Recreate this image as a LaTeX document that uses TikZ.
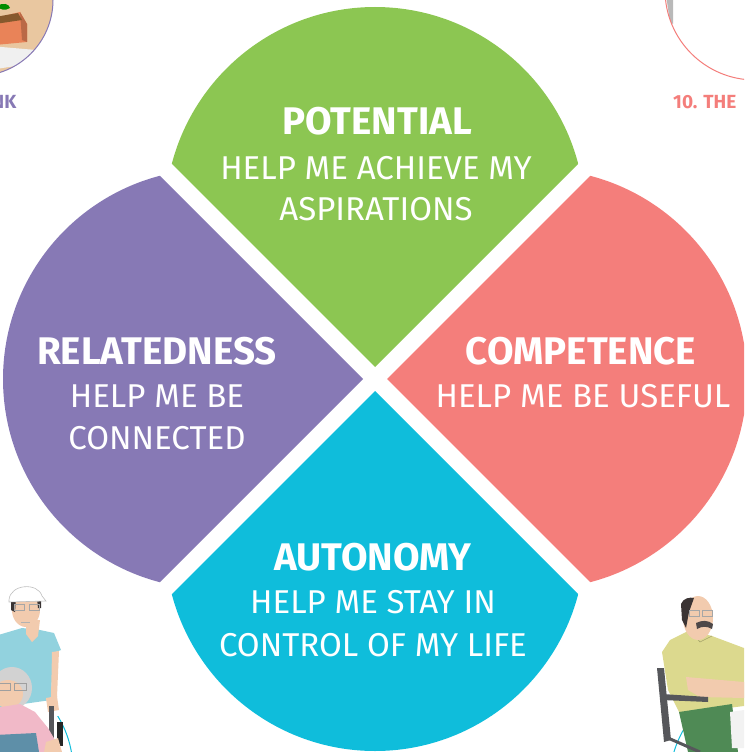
\documentclass[tikz,border=0pt]{standalone}
\usepackage{fontspec}
\setmainfont{Fira Sans}

\definecolor{petalgreen}{HTML}{8CC652}
\definecolor{petalpurple}{HTML}{8779B5}
\definecolor{petalcoral}{HTML}{F47E7B}
\definecolor{petalcyan}{HTML}{0FBDDB}
\definecolor{skin}{HTML}{F2CBAE}
\definecolor{hairdark}{HTML}{3A3434}
\definecolor{shirtblue}{HTML}{92D2DE}
\definecolor{blousepink}{HTML}{F1B9C8}
\definecolor{bagblue}{HTML}{5E8FA8}
\definecolor{khaki}{HTML}{DCD98E}
\definecolor{pantsgreen}{HTML}{4F8A55}
\definecolor{chairgray}{HTML}{56575B}
\definecolor{photobeige}{HTML}{E9C7A0}
\definecolor{planter}{HTML}{E98358}

\tikzset{
  petaltitle/.style={text=white, font=\bfseries\fontsize{38.5}{38.5}\selectfont,
    anchor=base, inner sep=0pt},
  petalline/.style={text=white, font=\mdseries\fontsize{33}{33}\selectfont,
    anchor=base, inner sep=0pt},
  cornerlabel/.style={font=\bfseries\fontsize{19}{19}\selectfont,
    anchor=base, inner sep=0pt},
  ring/.style={line width=1pt},
}

\begin{document}
\begin{tikzpicture}[x=1pt,y=-1pt]
\useasboundingbox (0,0) rectangle (744,752);
\clip (0,0) rectangle (744,752);

% ---------- four petals: a disc cut by two diagonals ----------
\begin{scope}
  \clip (375,367) -- (-25,-33) -- (775,-33) -- cycle;
  \fill[petalgreen] (375,217) circle (210pt);
\end{scope}
\begin{scope}
  \clip (363,379) -- (-37,-21) -- (-37,779) -- cycle;
  \fill[petalpurple] (213,379) circle (210pt);
\end{scope}
\begin{scope}
  \clip (387,379) -- (787,-21) -- (787,779) -- cycle;
  \fill[petalcoral] (537,379) circle (210pt);
\end{scope}
\begin{scope}
  \clip (375,391) -- (-25,791) -- (775,791) -- cycle;
  \fill[petalcyan] (375,541) circle (210pt);
\end{scope}

% ---------- petal texts ----------
\node[petaltitle] (potT) at (377,134) {POTENTIAL};
\node[petalline]  (potA) at (376,179) {HELP ME ACHIEVE MY};
\node[petalline]  (potB) at (376,220) {ASPIRATIONS};

\node[petaltitle] (relT) at (157,364) {RELATEDNESS};
\node[petalline]  (relA) at (157,407) {HELP ME BE};
\node[petalline]  (relB) at (157,449) {CONNECTED};

\node[petaltitle] (comT) at (581,364) {COMPETENCE};
\node[petalline]  (comA) at (583,407) {HELP ME BE USEFUL};

\node[petaltitle] (autT) at (373,570) {AUTONOMY};
\node[petalline]  (autA) at (373,613) {HELP ME STAY IN};
\node[petalline]  (autB) at (373,656) {CONTROL OF MY LIFE};

% ---------- top-left photo disc ----------
\begin{scope}
  \clip (-23,0) circle (76pt);
  \fill[photobeige] (-100,-80) rectangle (60,80);
  \fill[white!88!gray] (-10,46) -- (36,50) -- (28,64) -- (-10,70) -- cycle;
  \fill[planter] (-5,18) -- (20,12) -- (27,24) -- (27,42) -- (-5,45) -- cycle;
  \fill[planter!80!black] (20,12) -- (27,24) -- (27,42) -- (22,40) -- cycle;
  \fill[brown!70!black] (-5,17) -- (18,13) -- (22,20) -- (-5,24) -- cycle;
  \fill[green!55!black] (-3,6) .. controls (4,2) and (9,4) .. (10,8)
    .. controls (5,11) and (0,10) .. cycle;
\end{scope}
\draw[ring, petalpurple] (-23,0) circle (76pt);
\node[cornerlabel, text=petalpurple, anchor=base east] (lblL) at (16.5,108) {NK};

% ---------- top-right photo disc ----------
\fill[white] (755,-10) circle (90pt);
\begin{scope}
  \clip (755,-10) circle (90pt);
  \fill[gray!55] (666,-5) -- (673,-5) -- (673,24) -- (670,22) -- cycle;
\end{scope}
\draw[ring, petalcoral] (755,-10) circle (90pt);
\node[cornerlabel, text=petalcoral, anchor=base west] (lblR) at (673,108) {10. THE};

% ---------- bottom-left: carer pushing a wheelchair ----------
\begin{scope}
  \clip (55,716) rectangle (80,752);
  \draw[ring, petalcyan] (-30,770) circle (103pt);
\end{scope}
% carer
\fill[shirtblue] (-5,636) -- (22,628) -- (40,630) -- (54,633) -- (61,650)
  -- (53,653) -- (51,700) -- (-5,708) -- cycle;
\fill[skin] (26,620) -- (40,620) -- (38,636) -- (32,642) -- (26,634) -- cycle;
\fill[skin] (52,652) -- (59,651) -- (57,697) -- (51,698) -- cycle;
\fill[skin] (46,698) -- (57,696) -- (59,710) -- (48,712) -- cycle;
\fill[skin] (26,610) ellipse (14pt and 17pt);
\fill[hairdark] (11,598) -- (16,598) -- (15,612) -- (11,610) -- cycle;
\fill[hairdark] (37,598) -- (41,598) -- (41,608) -- (38,608) -- cycle;
\fill[white, draw=gray!50, line width=0.6pt] (9,600) .. controls (10,584) and (38,582) .. (42,596)
  -- (46,601) -- (9,602) -- cycle;
\draw[gray!70, line width=0.8pt] (14,604) rectangle (24,610) (29,604) rectangle (39,610);
\draw[gray!60, line width=0.6pt] (21,622) -- (30,622);
% wheelchair handle
\fill[chairgray] (49,706) rectangle (54,746);
\fill[black!85] (57,722) rectangle (63,746);
% elderly passenger
\fill[gray!35] (12,688) ellipse (20pt and 21pt);
\fill[skin] (8,694) ellipse (15pt and 14pt);
\draw[gray!75, line width=0.8pt] (-2,683) rectangle (10,690) (14,683) rectangle (26,690);
\fill[blousepink] (-5,708) -- (20,704) -- (35,712) -- (48,728) -- (62,752)
  -- (-5,752) -- cycle;
\fill[skin] (46,742) -- (58,738) -- (62,752) -- (44,752) -- cycle;
\fill[bagblue] (-5,735) -- (36,733) -- (39,752) -- (-5,752) -- cycle;

% ---------- bottom-right: seated man ----------
\begin{scope}
  \clip (660,730) rectangle (690,752);
  \draw[ring, petalcyan] (770,780) circle (100pt);
\end{scope}
% chair back and arm
\fill[chairgray] (657,668) -- (664,668) -- (671,740) -- (664,742) -- cycle;
\fill[khaki] (670,640) -- (690,630) -- (712,636) -- (744,648) -- (744,706)
  -- (680,714) -- (668,690) -- (662,652) -- cycle;
\draw[khaki!75!black, line width=0.6pt] (690,630) -- (700,642) -- (712,636);
\fill[skin] (686,677) -- (744,682) -- (744,698) -- (700,697) -- (688,690) -- cycle;
\fill[chairgray] (662,694) -- (708,697) -- (708,702) -- (662,700) -- cycle;
\fill[pantsgreen] (679,712) -- (732,704) -- (738,752) -- (688,752) -- cycle;
\fill[white!90!gray] (730,712) -- (744,710) -- (744,748) -- (732,748) -- cycle;
\draw[chairgray, line width=3pt] (668,738) -- (700,752);
% head
\fill[skin] (698,618) ellipse (15pt and 22pt);
\fill[hairdark] (681,604) .. controls (683,598) and (690,597) .. (694,598)
  -- (689,612) -- (686,628) -- (682,620) -- cycle;
\draw[gray!70, line width=0.8pt] (689,610) rectangle (699,616) (702,610) rectangle (712,616);
\fill[hairdark!90] (696,623) .. controls (702,620) and (708,620) .. (713,624)
  -- (712,629) .. controls (707,626) and (702,626) .. (697,629) -- cycle;
\end{tikzpicture}
\end{document}
